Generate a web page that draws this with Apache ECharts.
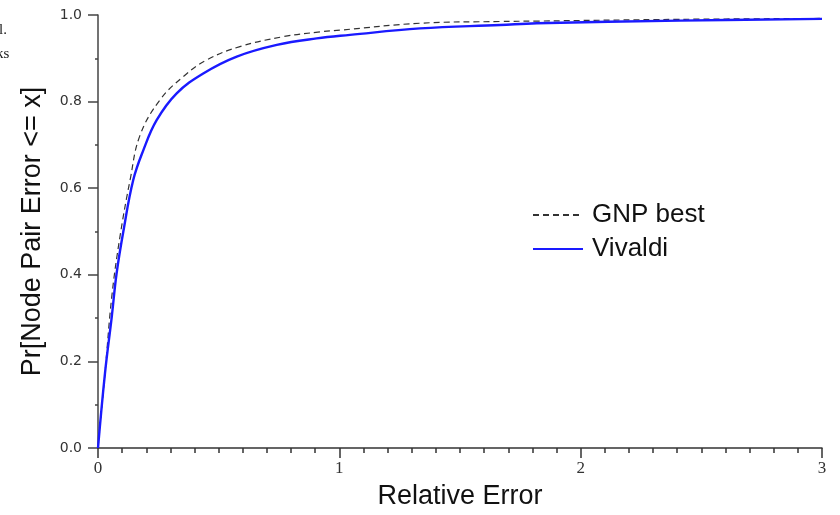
<!DOCTYPE html>
<html>
<head>
<meta charset="utf-8">
<script src="https://cdn.jsdelivr.net/npm/echarts@6/dist/echarts.min.js"></script>
<style>
html, body { margin: 0; padding: 0; background: #fff; }
#main { width: 840px; height: 515px; }
</style>
</head>
<body>
<div id="main"></div>
<script>
// values
var gnpX = [0, 0.03, 0.057, 0.091, 0.133, 0.174, 0.257, 0.354, 0.45, 0.588, 0.768, 0.92, 1.003, 1.334, 1.666, 1.818, 2.41, 3.0];
var gnpY = [0, 0.18, 0.349, 0.488, 0.619, 0.722, 0.804, 0.858, 0.896, 0.927, 0.95, 0.961, 0.965, 0.981, 0.985, 0.986, 0.99, 0.992];
var vivaldiX = [0, 0.029, 0.057, 0.077, 0.105, 0.146, 0.188, 0.243, 0.326, 0.436, 0.575, 0.741, 0.906, 1.044, 1.334, 1.666, 1.818, 2.41, 3.0];
var vivaldiY = [0, 0.173, 0.303, 0.403, 0.5, 0.619, 0.688, 0.757, 0.819, 0.865, 0.904, 0.931, 0.946, 0.954, 0.969, 0.977, 0.981, 0.987, 0.991];
var seriesNames = ['GNP best', 'Vivaldi'];

function pairs(xs, ys) {
    return xs.map(function (x, i) { return [x, ys[i]]; });
}

var myChart = echarts.init(document.getElementById('main'));

myChart.setOption({
    animation: false,
    grid: { left: 98, right: 18, top: 15, bottom: 67 },
    // bits of the surrounding page text cut in at the left edge
    graphic: [
        { type: 'text', left: -1, top: 23, style: { text: 'l.', font: '15px "Liberation Serif"', fill: '#222' } },
        { type: 'text', left: -4, top: 47, style: { text: 'ks', font: '15px "Liberation Serif"', fill: '#222' } }
    ],
    legend: {
        orient: 'vertical',
        left: 532,
        top: 202,
        padding: 0,
        itemWidth: 50,
        itemHeight: 14,
        itemGap: 8,
        data: seriesNames,
        itemStyle: { opacity: 0 },
        textStyle: { fontFamily: 'Liberation Sans', fontSize: 26, lineHeight: 26, color: '#111', padding: [0, 0, 0, 4] }
    },
    xAxis: {
        type: 'value',
        min: 0,
        max: 3,
        interval: 1,
        name: 'Relative Error',
        nameLocation: 'middle',
        nameGap: 35,
        nameTextStyle: { fontFamily: 'Liberation Sans', fontSize: 27, color: '#111' },
        axisLine: { lineStyle: { color: '#333', width: 1.5 } },
        axisTick: { length: 10, lineStyle: { color: '#333', width: 1.5 } },
        minorTick: { show: true, splitNumber: 10, length: 5, lineStyle: { color: '#333', width: 1.5 } },
        axisLabel: { fontFamily: 'Liberation Serif', fontSize: 17, color: '#333', margin: 12 },
        splitLine: { show: false }
    },
    yAxis: {
        type: 'value',
        min: 0,
        max: 1,
        interval: 0.2,
        name: 'Pr[Node Pair Error <= x]',
        nameLocation: 'middle',
        nameGap: 52,
        nameTextStyle: { fontFamily: 'Liberation Sans', fontSize: 27, color: '#111' },
        axisLine: { show: true, lineStyle: { color: '#444', width: 1.5 } },
        axisTick: { show: true, length: 10, lineStyle: { color: '#444', width: 1.5 } },
        minorTick: { show: true, splitNumber: 2, length: 3, lineStyle: { color: '#444', width: 1.5 } },
        axisLabel: {
            fontFamily: 'DejaVu Sans',
            fontSize: 14,
            color: '#333',
            margin: 16,
            formatter: function (v) { return v.toFixed(1); }
        },
        splitLine: { show: false }
    },
    series: [
        {
            name: seriesNames[0],
            type: 'line',
            smooth: 0.4,
            symbol: 'none',
            data: pairs(gnpX, gnpY),
            lineStyle: { color: '#333', width: 1.2, type: [6, 4] },
            itemStyle: { color: '#333' }
        },
        {
            name: seriesNames[1],
            type: 'line',
            smooth: 0.4,
            symbol: 'none',
            data: pairs(vivaldiX, vivaldiY),
            lineStyle: { color: '#1a1aff', width: 2.4 },
            itemStyle: { color: '#1a1aff' }
        }
    ]
});
</script>
</body>
</html>
